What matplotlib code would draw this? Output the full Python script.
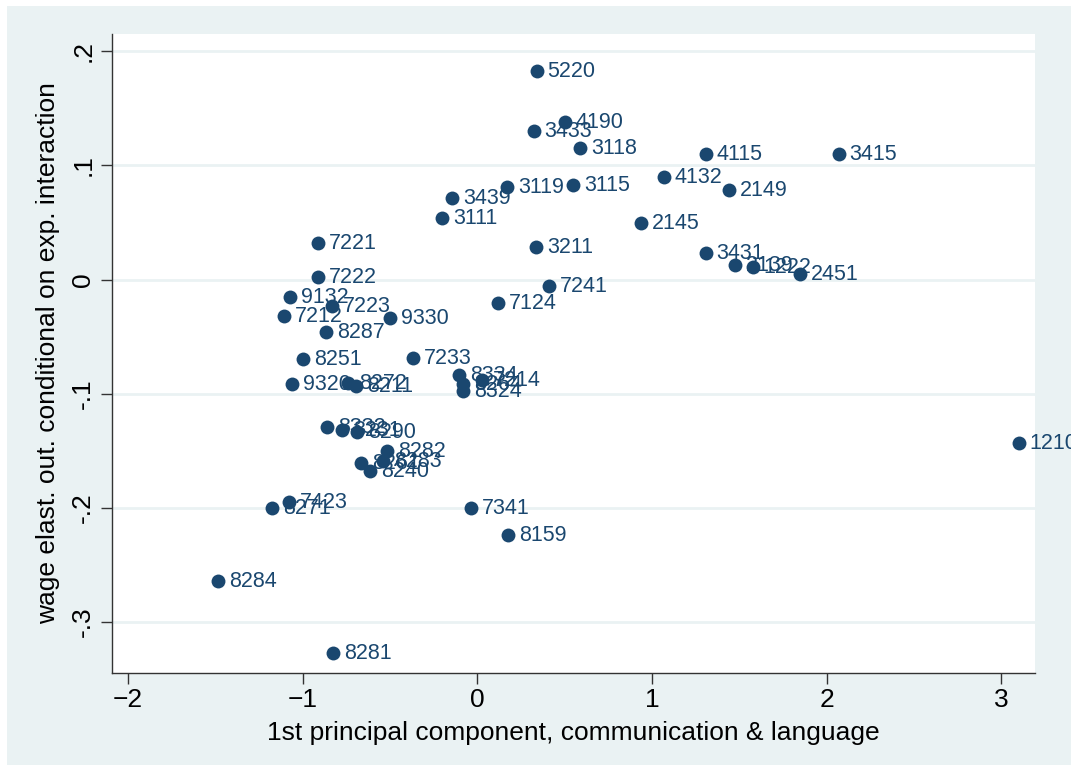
import matplotlib.pyplot as plt
from matplotlib.patches import Rectangle

# occupations: code, communication PC score, wage elasticity
codigos = ['5220', '4190', '3433', '3118', '4115', '3415', '4132', '2149',
           '3119', '3115', '3439', '3111', '2145', '7221', '3211', '3431',
           '2139', '1222', '2451', '7222', '7241', '9132', '7223', '7124',
           '7212', '9330', '8287', '8251', '7233', '8334', '8264', '8324',
           '7214', '9320', '8272', '8211', '8332', '8231', '8290', '8282',
           '8261', '8283', '8240', '7423', '8271', '7341', '8159', '8284',
           '8281', '1210']
pc1 = [0.343, 0.504, 0.326, 0.590, 1.311, 2.072, 1.070, 1.442,
       0.172, 0.550, -0.143, -0.200, 0.939, -0.910, 0.338, 1.311,
       1.477, 1.580, 1.849, -0.910, 0.412, -1.070, -0.830, 0.120,
       -1.105, -0.498, -0.864, -0.996, -0.366, -0.103, -0.080, -0.080,
       0.029, -1.059, -0.738, -0.693, -0.859, -0.773, -0.687, -0.515,
       -0.664, -0.538, -0.612, -1.076, -1.173, -0.034, 0.178, -1.483,
       -0.824, 3.102]
elast = [0.1826, 0.1379, 0.1300, 0.1151, 0.1099, 0.1099, 0.0898, 0.0784,
         0.0810, 0.0827, 0.0714, 0.0539, 0.0495, 0.0320, 0.0285, 0.0232,
         0.0127, 0.0109, 0.0048, 0.0022, -0.0057, -0.0153, -0.0232, -0.0206,
         -0.0320, -0.0337, -0.0460, -0.0696, -0.0687, -0.0836, -0.0915, -0.0976,
         -0.0880, -0.0915, -0.0906, -0.0933, -0.1290, -0.1320, -0.1335, -0.1500,
         -0.1607, -0.1590, -0.1677, -0.1948, -0.2001, -0.2001, -0.2237, -0.2640,
         -0.3270, -0.1430]

xticks = [-2, -1, 0, 1, 2, 3]
yticks = [0.2, 0.1, 0.0, -0.1, -0.2, -0.3]
yticklabels = ['.2', '.1', '0', '-.1', '-.2', '-.3']

navy = '#1a476f'
fondo = '#eaf2f3'

plt.rcParams['font.family'] = ['Liberation Sans', 'DejaVu Sans']

fig = plt.figure(figsize=(10.71, 7.70), dpi=100, facecolor='white')
# fondo tipo stata, detras de los ejes
fig.patches.append(Rectangle((7 / 1071, 5 / 770), 1 - 7 / 1071, 1 - 11 / 770,
                             transform=fig.transFigure, facecolor=fondo,
                             edgecolor='none', zorder=-10))

ax = fig.add_axes([0.1046, 0.126, 0.8618, 0.8298])
ax.set_facecolor('white')
ax.scatter(pc1, elast, s=100, color=navy, zorder=3, linewidths=0)
for cod, x, y in zip(codigos, pc1, elast):
    ax.annotate(cod, (x, y), xytext=(7.5, -0.5), textcoords='offset points',
                va='center', ha='left', fontsize=15.5, color=navy, zorder=4,
                annotation_clip=False)

ax.set_xlim(-2.092, 3.194)
ax.set_ylim(-0.3446, 0.215)
ax.set_xticks(xticks)
ax.set_yticks(yticks)
ax.set_yticklabels(yticklabels, rotation=90, va='center')
ax.tick_params(axis='both', labelsize=19, length=8, width=1, color='#333333',
               labelcolor='black')
ax.tick_params(axis='y', pad=4)
ax.tick_params(axis='x', pad=3)
ax.yaxis.grid(True, color=fondo, linewidth=2, zorder=0)
ax.set_axisbelow(True)
for lado in ['top', 'right']:
    ax.spines[lado].set_visible(False)
for lado in ['left', 'bottom']:
    ax.spines[lado].set_color('#333333')
    ax.spines[lado].set_linewidth(1)

ax.set_xlabel('1st principal component, communication & language', fontsize=19, labelpad=6)
ax.set_ylabel('wage elast. out. conditional on exp. interaction', fontsize=19, labelpad=8)

fig.savefig('out.png', dpi=100, facecolor=fig.get_facecolor())
